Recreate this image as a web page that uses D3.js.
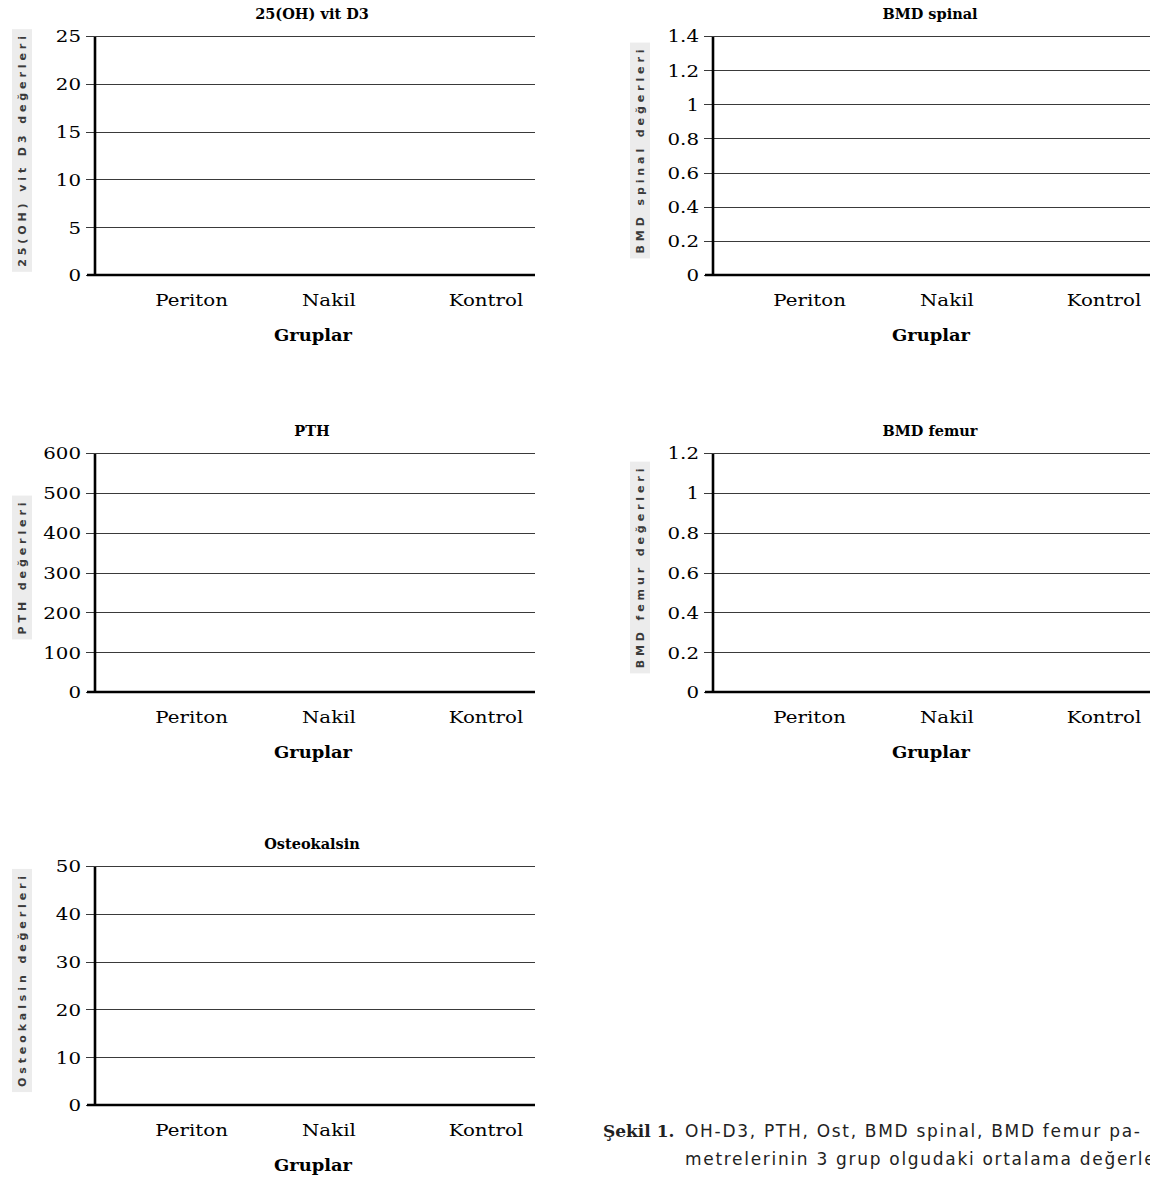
<!DOCTYPE html>
<html><head><meta charset="utf-8">
<script src="https://cdn.jsdelivr.net/npm/d3@7"></script>
<style>
html,body{margin:0;padding:0;background:#fff;overflow:hidden;}
svg{display:block;}
</style></head>
<body>
<svg id="c" width="1150" height="1180"></svg>
<script>
// ---- data ----
const categories = ["Periton", "Nakil", "Kontrol"];
const titles = ["25(OH) vit D3", "BMD spinal", "PTH", "BMD femur", "Osteokalsin"];
const yLabels = ["25(OH) vit D3 değerleri", "BMD spinal değerleri", "PTH değerleri", "BMD femur değerleri", "Osteokalsin değerleri"];
const yMax = [25, 1.4, 600, 1.2, 50];
const ticksVitD = [0, 5, 10, 15, 20, 25];
const ticksSpinal = [0, 0.2, 0.4, 0.6, 0.8, 1, 1.2, 1.4];
const ticksPTH = [0, 100, 200, 300, 400, 500, 600];
const ticksFemur = [0, 0.2, 0.4, 0.6, 0.8, 1, 1.2];
const ticksOst = [0, 10, 20, 30, 40, 50];
const xAxisTitle = "Gruplar";
const captionLabel = "Şekil 1.";
const captionLines = ["OH-D3, PTH, Ost, BMD spinal, BMD femur pa-", "metrelerinin 3 grup olgudaki ortalama değerleri"];

const tickSets = [ticksVitD, ticksSpinal, ticksPTH, ticksFemur, ticksOst];

// ---- layout ----
const svg = d3.select("#c");
const W = 440, H = 239;
const origins = [[95, 36], [713, 36], [95, 453], [713, 453], [95, 866]];
const serif = "'DejaVu Serif', serif";
const SX = 1.2;

titles.forEach((t, i) => {
  const [ox, oy] = origins[i];
  const g = svg.append("g").attr("transform", `translate(${ox},${oy})`);
  const y = d3.scaleLinear().domain([0, yMax[i]]).range([H, 0]);
  const x = d3.scaleBand().domain(categories).range([0, W]);

  // gridlines + ticks
  const ya = d3.axisLeft(y).tickValues(tickSets[i]).tickSize(-W).tickPadding(0)
    .tickFormat(d => String(+d.toFixed(2)));
  const yg = g.append("g").call(ya);
  yg.select(".domain").remove();
  yg.selectAll(".tick line").attr("x1", -9).attr("stroke", "#3a3a3a").attr("stroke-width", 1)
    .attr("shape-rendering", "crispEdges");
  yg.selectAll(".tick text")
    .attr("x", -14 / SX).attr("dy", "0.36em")
    .attr("transform", `scale(${SX},1)`)
    .attr("font-family", serif).attr("font-size", 16.5).attr("fill", "#000");

  // axes lines
  g.append("line").attr("x1", 0).attr("x2", 0).attr("y1", 1).attr("y2", H)
    .attr("stroke", "#000").attr("stroke-width", 2.6);
  g.append("line").attr("x1", -8).attr("x2", W).attr("y1", H).attr("y2", H)
    .attr("stroke", "#000").attr("stroke-width", 2.6);

  // x axis labels
  const xa = d3.axisBottom(x).tickSize(0).tickPadding(0);
  const xg = g.append("g").attr("transform", `translate(0,${H})`).call(xa);
  xg.select(".domain").remove();
  xg.selectAll(".tick text")
    .attr("text-anchor", "start")
    .attr("x", -13 / SX).attr("y", 31).attr("dy", 0)
    .attr("transform", `scale(${SX},1)`)
    .attr("font-family", serif).attr("font-size", 16.5).attr("fill", "#000");

  // title
  g.append("text").attr("x", W / 2 - 3).attr("y", -17).attr("text-anchor", "middle")
    .attr("font-family", serif).attr("font-weight", "bold").attr("font-size", 14.5)
    .attr("fill", "#000").text(t);

  // x axis title
  g.append("text").attr("transform", `translate(${W / 2 - 2},${H + 66}) scale(1.12,1)`)
    .attr("text-anchor", "middle")
    .attr("font-family", serif).attr("font-weight", "bold").attr("font-size", 16)
    .attr("fill", "#000").text(xAxisTitle);

  // y label (rotated, on grey box)
  const lx = ox - 73, ly = oy + H / 2 - 6;
  const lg = svg.append("g").attr("transform", `translate(${lx},${ly}) rotate(-90)`);
  const lt = lg.append("text").attr("text-anchor", "middle").attr("dy", "0.35em")
    .attr("font-family", "'DejaVu Sans', sans-serif").attr("font-weight", "bold")
    .attr("font-size", 11).attr("letter-spacing", 3.9).attr("fill", "#3a3a3a")
    .text(yLabels[i]);
  const bb = lt.node().getBBox();
  lg.insert("rect", "text").attr("x", bb.x - 5).attr("y", -10).attr("width", bb.width + 8)
    .attr("height", 20).attr("fill", "#ececec");
});

// caption
const cap = svg.append("g");
cap.append("text").attr("x", 603).attr("y", 1137)
  .attr("font-family", serif).attr("font-weight", "bold").attr("font-size", 17)
  .attr("fill", "#222").text(captionLabel);
captionLines.forEach((l, k) => {
  cap.append("text").attr("x", 685).attr("y", 1137 + k * 28)
    .attr("font-family", "'DejaVu Sans', sans-serif").attr("font-size", 17)
    .attr("letter-spacing", 1.7).attr("fill", "#222").text(l);
});
</script>
</body></html>
